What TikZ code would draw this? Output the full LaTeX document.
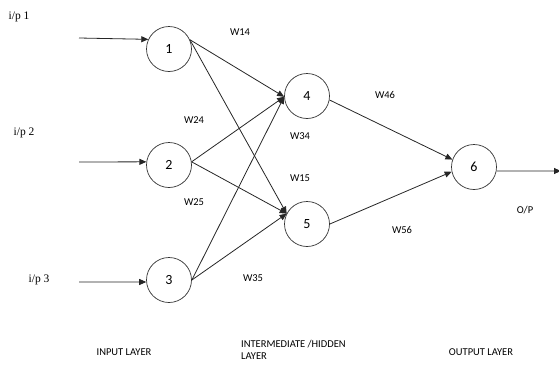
\documentclass[tikz,border=0pt]{standalone}
\usepackage{fontspec}
\setmainfont{Carlito}
\newfontfamily\ipfont{Liberation Serif}
\usetikzlibrary{arrows.meta}
\begin{document}
\begin{tikzpicture}[x=1pt,y=-1pt,
  neuron/.style={circle,draw=black!80,line width=0.7pt,minimum size=45pt,inner sep=0pt,font=\fontsize{14}{16}\selectfont},
  conn/.style={draw=black!85,line width=0.8pt,-{Triangle[length=7pt,width=6pt]}},
  wlab/.style={font=\fontsize{10.5}{12}\selectfont,inner sep=0pt},
  iplab/.style={font=\ipfont\fontsize{11.5}{12}\selectfont,inner sep=0pt}]
\useasboundingbox (0,0) rectangle (559,367);
% neurons
\node[neuron] (n1) at (169,49) {1};
\node[neuron] (n2) at (169,165) {2};
\node[neuron] (n3) at (169,280) {3};
\node[neuron] (n4) at (307,96) {4};
\node[neuron] (n5) at (307,224) {5};
\node[neuron] (n6) at (474,167) {6};
% input start points
\coordinate (s1) at (79,38);
\coordinate (s2) at (79,162);
\coordinate (s3) at (79,282);
\coordinate (o) at (561,171);
% input arrows
\draw[conn] (s1) -- (n1.155);
\draw[conn] (s2) -- (n2.172);
\draw[conn] (s3) -- (n3.185);
% to hidden
\draw[conn] (n1.24) -- (n4.182);
\draw[conn] (n1.24) -- (n5.153);
\draw[conn] (n2.8) -- (n4.182);
\draw[conn] (n2.8) -- (n5.153);
\draw[conn] (n3.0) -- (n4.182);
\draw[conn] (n3.0) -- (n5.153);
% to output
\draw[conn] (n4.-10) -- (n6.161);
\draw[conn] (n5.0) -- (n6.192);
\draw[conn] (n6.-10) -- (o);
% input labels
\node[iplab] (ip1) at (19,17) {i/p 1};
\node[iplab] (ip2) at (24,133) {i/p 2};
\node[iplab] (ip3) at (39,280) {i/p 3};
% weights
\node[wlab] (w14) at (240,32) {W14};
\node[wlab] (w24) at (194,120) {W24};
\node[wlab] (w34) at (300,136) {W34};
\node[wlab] (w15) at (300,178) {W15};
\node[wlab] (w25) at (194,202) {W25};
\node[wlab] (w35) at (253,278) {W35};
\node[wlab] (w46) at (385,95) {W46};
\node[wlab] (w56) at (402,230) {W56};
\node[wlab] (op) at (525,210) {O/P};
% layer labels
\node[wlab] (il) at (124,352) {INPUT LAYER};
\node[wlab,anchor=west,align=left] (hl) at (241,350) {INTERMEDIATE /HIDDEN\\LAYER};
\node[wlab] (ol) at (481,352) {OUTPUT LAYER};
\end{tikzpicture}
\end{document}
